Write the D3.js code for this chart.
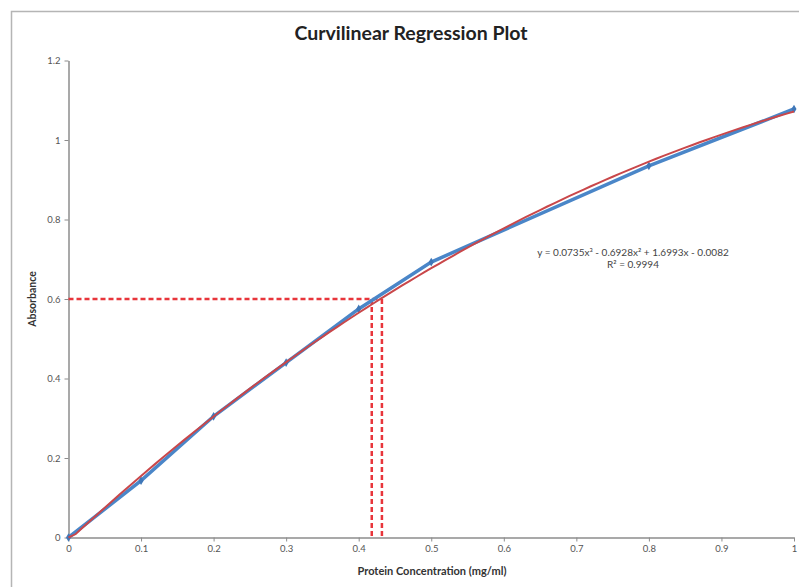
<!DOCTYPE html>
<html><head><meta charset="utf-8">
<script src="https://cdn.jsdelivr.net/npm/d3@7"></script>
<style>body{margin:0;background:#fff}svg{display:block}</style>
</head><body>
<svg id="c" width="799" height="587"></svg>
<script>
const xData = [0, 0.1, 0.2, 0.3, 0.4, 0.5, 0.8, 1.0];
const yData = [0, 0.143, 0.305, 0.44, 0.575, 0.693, 0.935, 1.078];
const coeffs = [-0.0082, 1.6993, -0.6928, 0.0735]; // c0 + c1 x + c2 x^2 + c3 x^3
const xTicks = [0, 0.1, 0.2, 0.3, 0.4, 0.5, 0.6, 0.7, 0.8, 0.9, 1];
const yTicks = [0, 0.2, 0.4, 0.6, 0.8, 1, 1.2];
const targetY = 0.6;
const crossX = [0.418, 0.432];
const eqLines = ["y = 0.0735x³ - 0.6928x² + 1.6993x - 0.0082", "R² = 0.9994"];

const svg = d3.select("#c");
const font = "Lato, 'Open Sans', sans-serif";
const x = d3.scaleLinear().domain([0, 1]).range([68.5, 794]);
const y = d3.scaleLinear().domain([0, 1.2]).range([537.5, 60.5]);

// outer frame
svg.append("path").attr("d", "M11.5,587 V11.5 H799").attr("fill", "none")
  .attr("stroke", "#b5b5b5").attr("stroke-width", 1.5);

// title
svg.append("text").attr("x", 411).attr("y", 40).attr("text-anchor", "middle")
  .attr("font-family", font).attr("font-weight", "bold").attr("font-size", 19.5)
  .attr("fill", "#222").text("Curvilinear Regression Plot");

// axes
const xAxis = d3.axisBottom(x).tickValues(xTicks).tickSize(4).tickSizeOuter(0).tickFormat(d3.format("~g"));
const yAxis = d3.axisLeft(y).tickValues(yTicks).tickSize(4).tickSizeOuter(0).tickFormat(d3.format("~g"));
const gx = svg.append("g").attr("transform", `translate(0,${y(0)})`).call(xAxis);
const gy = svg.append("g").attr("transform", `translate(${x(0)},0)`).call(yAxis);
[gx, gy].forEach(g => {
  g.select(".domain").attr("stroke", "#8c8c8c").attr("stroke-width", 1.5);
  g.selectAll(".tick line").attr("stroke", "#8c8c8c").attr("stroke-width", 1);
  g.selectAll(".tick text").attr("font-family", font).attr("font-size", 9.5).attr("fill", "#555");
});
gx.selectAll(".tick text").attr("dy", "1.1em").attr("y", 4);
gy.selectAll(".tick text").attr("x", -8);

// axis titles
svg.append("text").attr("x", 432).attr("y", 575).attr("text-anchor", "middle")
  .attr("font-family", font).attr("font-weight", "bold").attr("font-size", 11)
  .attr("fill", "#333").text("Protein Concentration (mg/ml)");
svg.append("text").attr("transform", `translate(36,${y(0.6)}) rotate(-90)`).attr("text-anchor", "middle")
  .attr("font-family", font).attr("font-weight", "bold").attr("font-size", 10.5)
  .attr("fill", "#333").text("Absorbance");

// dashed red guides
const dash = "5,3";
const red2 = "#e8353b";
svg.append("line").attr("x1", x(0)).attr("x2", x(crossX[1])).attr("y1", y(targetY)).attr("y2", y(targetY))
  .attr("stroke", red2).attr("stroke-width", 2.5).attr("stroke-dasharray", dash);
crossX.forEach(cx => {
  svg.append("line").attr("x1", x(cx)).attr("x2", x(cx)).attr("y1", y(targetY)).attr("y2", y(0))
    .attr("stroke", red2).attr("stroke-width", 2.5).attr("stroke-dasharray", dash);
});

// data line
const pts = xData.map((v, i) => [v, yData[i]]);
svg.append("path").datum(pts).attr("fill", "none").attr("stroke", "#4a86c8").attr("stroke-width", 3.5)
  .attr("d", d3.line().x(d => x(d[0])).y(d => y(d[1])));
svg.selectAll(".pt").data(pts).enter().append("path").attr("class", "pt")
  .attr("transform", d => `translate(${x(d[0])},${y(d[1])})`)
  .attr("d", d3.symbol(d3.symbolDiamond, 22)).attr("fill", "#3f77b8");

// fitted curve
const poly = v => coeffs.reduce((s, c, i) => s + c * Math.pow(v, i), 0);
const fx = d3.range(0, 1.0001, 0.01);
svg.append("path").datum(fx).attr("fill", "none").attr("stroke", "#c9474a").attr("stroke-width", 2)
  .attr("d", d3.line().x(d => x(d)).y(d => y(Math.max(0, poly(d)))));

// equation
eqLines.forEach((t, i) => {
  svg.append("text").attr("x", 633).attr("y", 256 + i * 12).attr("text-anchor", "middle")
    .attr("font-family", font).attr("font-size", 10).attr("fill", "#444").text(t);
});
</script>
</body></html>
